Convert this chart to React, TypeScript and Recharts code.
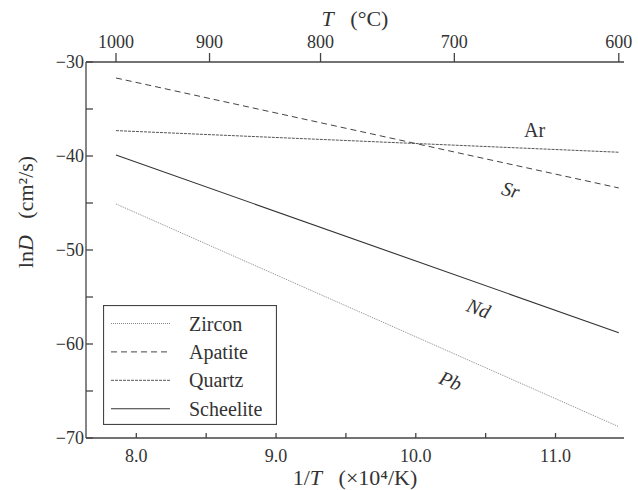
import { Label, Legend, Line, LineChart, ReferenceDot, XAxis, YAxis } from "recharts"

// temperatures at the two ends of every line (°C)
const endTempsC = [1000, 600]

// ln D (cm²/s) at 1000 °C and 600 °C
const zircon = [-45.1, -68.8]
const apatite = [-31.7, -43.4]
const quartz = [-37.3, -39.6]
const scheelite = [-39.9, -58.8]

const bottomTicks = [8.0, 8.5, 9.0, 9.5, 10.0, 10.5, 11.0]
const leftTicks = [-70, -65, -60, -55, -50, -45, -40, -35, -30]
const topTicksC = [1000, 900, 800, 700, 600]

const curveLabels = [
  { text: "Ar", x: 10.85, y: -37.2, italic: false, angle: 0 },
  { text: "Sr", x: 10.68, y: -43.6, italic: true, angle: 15 },
  { text: "Nd", x: 10.45, y: -56.2, italic: true, angle: 20 },
  { text: "Pb", x: 10.25, y: -63.9, italic: true, angle: 22 },
]

const toInvT = (c: number) => 1e4 / (c + 273.15)

const data = endTempsC.map((c, i) => ({
  invT: toInvT(c),
  zircon: zircon[i],
  apatite: apatite[i],
  quartz: quartz[i],
  scheelite: scheelite[i],
}))

const series = [
  { key: "zircon", name: "Zircon", color: "#8a8a8a", dash: "1 1", width: 1 },
  { key: "apatite", name: "Apatite", color: "#444", dash: "6 4", width: 1 },
  { key: "quartz", name: "Quartz", color: "#555", dash: "3 1", width: 1 },
  { key: "scheelite", name: "Scheelite", color: "#333", dash: undefined, width: 1.1 },
]

const FONT = "Liberation Serif, DejaVu Serif, serif"
const INK = "#333"
const AXIS = "#444"
const GAP = "\u2002 "
const txt = { fontFamily: FONT }
const tickStyle = { fill: INK, fontSize: 18, fontFamily: FONT, style: txt }

const minus = (v: number) => String(v).replace("-", "\u2212")

function LegendBox() {
  return (
    <svg width={174} height={120} style={{ display: "block", fontFamily: FONT }}>
      <rect x={0.5} y={0.5} width={173} height={119} fill="#fff" stroke={AXIS} strokeWidth={1.2} />
      {series.map((s, i) => {
        const y = 18.5 + i * 28.4
        return (
          <g key={s.key}>
            <line x1={8} x2={67} y1={y} y2={y} stroke={s.color} strokeWidth={s.width} strokeDasharray={s.dash} />
            <text x={86} y={y} dy="0.35em" style={txt} fontSize={20} fill={INK}>
              {s.name}
            </text>
          </g>
        )
      })}
    </svg>
  )
}

export default function App() {
  return (
    <div style={{ position: "absolute", left: 0, top: 0, background: "#fff", fontFamily: FONT }}>
      <LineChart
        width={638}
        height={490}
        data={data}
        margin={{ top: 0, right: 14, bottom: 0, left: 0 }}
        style={{ fontFamily: FONT }}
      >
        <XAxis
          dataKey="invT"
          type="number"
          domain={[7.64, 11.49]}
          ticks={bottomTicks}
          interval={0}
          height={52}
          tickSize={-5}
          tickMargin={16}
          stroke={AXIS}
          strokeWidth={1.3}
          tick={tickStyle}
          tickFormatter={(v: number) => (Number.isInteger(v) ? v.toFixed(1) : "")}
        >
          <Label
            content={({ viewBox }: any) => (
              <text
                x={viewBox.x + viewBox.width / 2}
                y={485}
                textAnchor="middle"
                style={txt}
                fontSize={22}
                fill={INK}
              >
                1/<tspan fontStyle="italic">T</tspan>
                {`${GAP}(×10⁴/K)`}
              </text>
            )}
          />
        </XAxis>
        <XAxis
          xAxisId="top"
          orientation="top"
          dataKey="invT"
          type="number"
          domain={[7.64, 11.49]}
          ticks={topTicksC.map(toInvT)}
          interval={0}
          height={62}
          tickSize={9}
          tickMargin={5}
          stroke={AXIS}
          strokeWidth={1.3}
          tick={tickStyle}
          tickFormatter={(v: number) => String(Math.round(1e4 / v - 273.15))}
        >
          <Label
            content={({ viewBox }: any) => (
              <text
                x={viewBox.x + viewBox.width / 2}
                y={26}
                textAnchor="middle"
                style={txt}
                fontSize={22}
                fill={INK}
              >
                <tspan fontStyle="italic">T</tspan>
                {`${GAP}(°C)`}
              </text>
            )}
          />
        </XAxis>
        <YAxis
          type="number"
          domain={[-70, -30]}
          ticks={leftTicks}
          interval={0}
          width={86}
          tickSize={-7}
          tickMargin={9}
          stroke={AXIS}
          strokeWidth={1.3}
          tick={tickStyle}
          tickFormatter={(v: number) => (v % 10 === 0 ? minus(v) : "")}
        >
          <Label
            content={() => (
              <text
                x={25}
                y={212}
                dy="0.35em"
                transform="rotate(-90 25 212)"
                textAnchor="middle"
                style={txt}
                fontSize={22}
                fill={INK}
              >
                ln<tspan fontStyle="italic">D</tspan>
                {`${GAP}(cm²/s)`}
              </text>
            )}
          />
        </YAxis>
        <YAxis
          yAxisId="right"
          orientation="right"
          type="number"
          domain={[-70, -30]}
          width={0}
          tick={false}
          tickLine={false}
          stroke={AXIS}
          strokeWidth={1.3}
        />
        {series.map((s) => (
          <Line
            key={s.key}
            dataKey={s.key}
            name={s.name}
            type="linear"
            stroke={s.color}
            strokeWidth={s.width}
            strokeDasharray={s.dash}
            dot={false}
            activeDot={false}
            isAnimationActive={false}
          />
        ))}
        {curveLabels.map((l) => (
          <ReferenceDot
            key={l.text}
            x={l.x}
            y={l.y}
            r={0}
            fill="none"
            stroke="none"
            label={{
              content: ({ viewBox }: any) => {
                const cx = viewBox.x + viewBox.width / 2
                const cy = viewBox.y + viewBox.height / 2
                return (
                  <text
                    x={cx}
                    y={cy}
                    dy="0.35em"
                    textAnchor="middle"
                    transform={`rotate(${l.angle} ${cx} ${cy})`}
                    style={txt}
                    fontSize={20}
                    fontStyle={l.italic ? "italic" : "normal"}
                    fill={INK}
                  >
                    {l.text}
                  </text>
                )
              },
            }}
          />
        ))}
        <Legend
          layout="vertical"
          align="center"
          verticalAlign="middle"
          content={() => <LegendBox />}
          wrapperStyle={{ position: "absolute", left: 103, top: 305, width: 174, height: 120 }}
        />
      </LineChart>
    </div>
  )
}
